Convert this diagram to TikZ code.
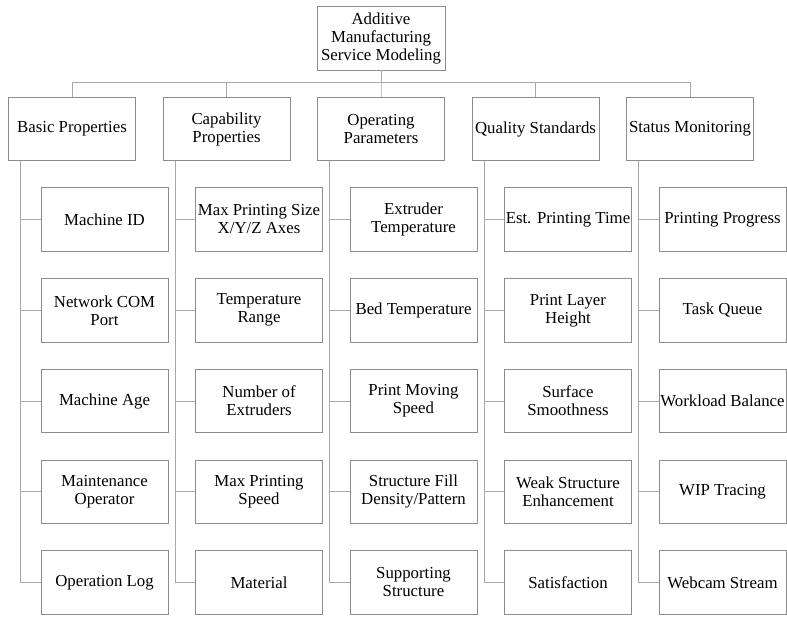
\documentclass[tikz,border=0pt]{standalone}
\usepackage{fontspec}
\setmainfont{Liberation Serif}
\definecolor{boxgray}{HTML}{8C8C8C}
\definecolor{linegray}{HTML}{A8A8A8}
\begin{document}
\begin{tikzpicture}[x=1pt,y=-1pt,
  box/.style={draw=boxgray, line width=0.95pt, minimum width=127pt, minimum height=63.5pt,
    inner xsep=0.5pt, inner ysep=1pt, align=center, text=black,
    font=\fontsize{16.8}{18}\selectfont},
  link/.style={draw=linegray, line width=0.95pt}]
\useasboundingbox (0,0) rectangle (787,619);

% root
\node[box, minimum width=128pt, minimum height=64pt] (root) at (381,38) {Additive\\Manufacturing\\Service Modeling};

% category boxes
\node[box] (b) at (72,129)    {Basic Properties};
\node[box] (c) at (226.5,129) {Capability\\Properties};
\node[box] (o) at (381,129)   {Operating\\Parameters};
\node[box] (q) at (535.5,129) {Quality Standards};
\node[box] (s) at (690,129)   {Status Monitoring};

% Basic Properties
\node[box] (b1) at (104.5,219.5)  {Machine ID};
\node[box] (b2) at (104.5,310.25) {Network COM\\Port};
\node[box] (b3) at (104.5,401)    {Machine Age};
\node[box] (b4) at (104.5,491.75) {Maintenance\\Operator};
\node[box] (b5) at (104.5,582.5)  {Operation Log};

% Capability Properties
\node[box] (c1) at (259,219.5)  {Max Printing Size\\X/Y/Z Axes};
\node[box] (c2) at (259,310.25) {Temperature\\Range};
\node[box] (c3) at (259,401)    {Number of\\Extruders};
\node[box] (c4) at (259,491.75) {Max Printing\\Speed};
\node[box] (c5) at (259,582.5)  {Material};

% Operating Parameters
\node[box] (o1) at (413.5,219.5)  {Extruder\\Temperature};
\node[box] (o2) at (413.5,310.25) {Bed Temperature};
\node[box] (o3) at (413.5,401)    {Print Moving\\Speed};
\node[box] (o4) at (413.5,491.75) {Structure Fill\\Density/Pattern};
\node[box] (o5) at (413.5,582.5)  {Supporting\\Structure};

% Quality Standards
\node[box] (q1) at (568,219.5)  {Est. Printing Time};
\node[box] (q2) at (568,310.25) {Print Layer\\Height};
\node[box] (q3) at (568,401)    {Surface\\Smoothness};
\node[box] (q4) at (568,491.75) {Weak Structure\\Enhancement};
\node[box] (q5) at (568,582.5)  {Satisfaction};

% Status Monitoring
\node[box] (s1) at (722.5,219.5)  {Printing Progress};
\node[box] (s2) at (722.5,310.25) {Task Queue};
\node[box] (s3) at (722.5,401)    {Workload Balance};
\node[box] (s4) at (722.5,491.75) {WIP Tracing};
\node[box] (s5) at (722.5,582.5)  {Webcam Stream};

% root to categories through a common bus
\foreach \k in {b,c,o,q,s}
  \draw[link] (\k.north) -- ++(0,-14) -| (root.south);

% category trunks and branches
\foreach \k in {b,c,o,q,s}{
  \coordinate (\k t) at ([xshift=-51.5pt]\k.south);
  \draw[link] (\k t) |- (\k5.west);
  \foreach \i in {1,2,3,4}
    \draw[link] (\k\i.west) -- (\k\i.west -| \k t);
}
\end{tikzpicture}
\end{document}
